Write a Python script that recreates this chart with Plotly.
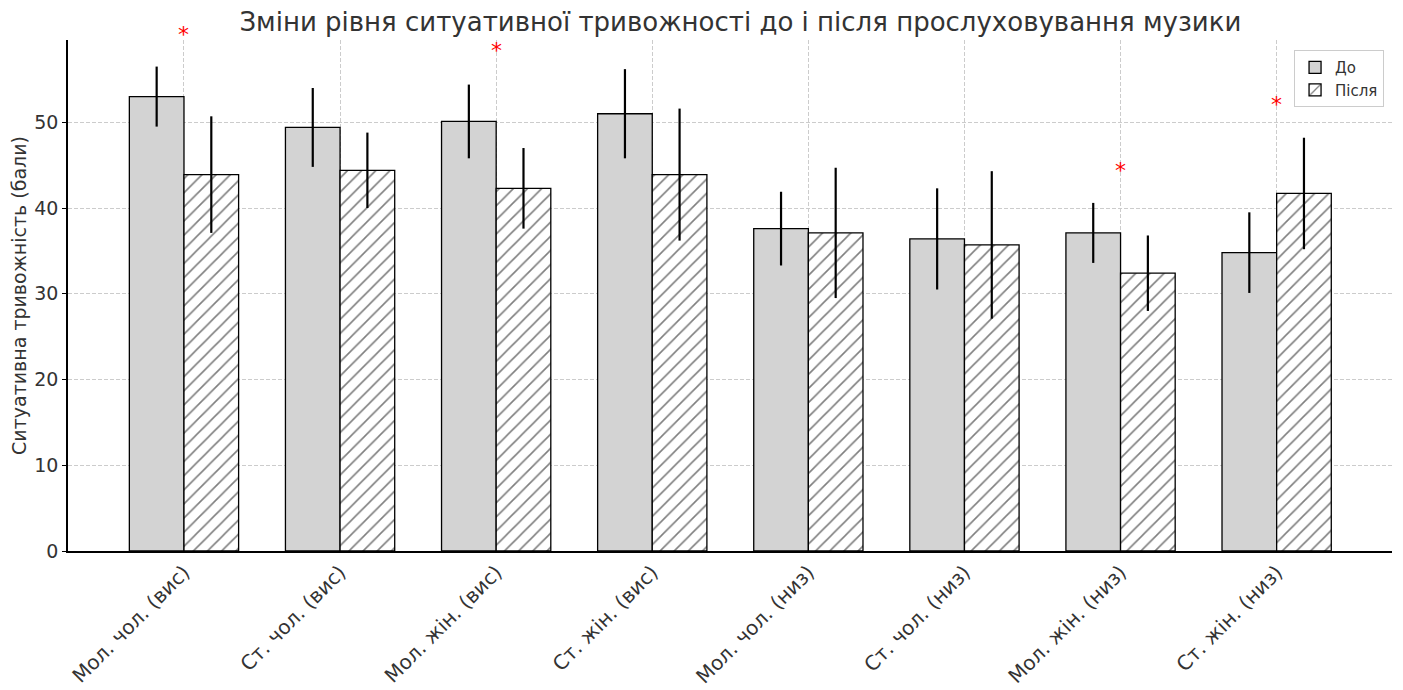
import plotly.graph_objects as go

groups = ["Мол. чол. (вис)", "Ст. чол. (вис)", "Мол. жін. (вис)", "Ст. жін. (вис)",
          "Мол. чол. (низ)", "Ст. чол. (низ)", "Мол. жін. (низ)", "Ст. жін. (низ)"]
before = [53.0, 49.4, 50.1, 51.0, 37.6, 36.4, 37.1, 34.8]
before_sd = [3.5, 4.6, 4.3, 5.2, 4.3, 5.9, 3.5, 4.7]
after = [43.9, 44.4, 42.3, 43.9, 37.1, 35.7, 32.4, 41.7]
after_sd = [6.8, 4.4, 4.7, 7.7, 7.6, 8.6, 4.4, 6.5]
star_idx = [0, 2, 6, 7]
star_y = [60.3, 58.4, 44.4, 52.1]

x = list(range(len(groups)))

fig = go.Figure()
fig.add_trace(go.Bar(
    x=x, y=before, name="До",
    marker=dict(color="#d3d3d3", line=dict(color="black", width=1.3)),
    error_y=dict(type="data", array=before_sd, color="black", thickness=2.2, width=0),
))
fig.add_trace(go.Bar(
    x=x, y=after, name="Після",
    marker=dict(color="white", line=dict(color="black", width=1.3),
                pattern=dict(shape="/", fgcolor="black", bgcolor="white", size=10, solidity=0.16)),
    error_y=dict(type="data", array=after_sd, color="black", thickness=2.2, width=0),
))

# significance markers (anchored 2 units lower and shifted up in px,
# so the one above the axis top is not hidden as off-axis)
px_per_unit = 511 / 59.6
for i, yv in zip(star_idx, star_y):
    fig.add_annotation(x=i, y=yv - 2, xref="x", yref="y", text="*", showarrow=False,
                       font=dict(color="red", size=22, family="DejaVu Sans"),
                       yanchor="middle", yshift=2 * px_per_unit)

# page body has an 8px margin, so shift margins to keep the plot area in place
fig.update_layout(
    width=1403, height=690,
    margin=dict(l=60, r=19, t=32, b=147),
    paper_bgcolor="white", plot_bgcolor="white",
    barmode="group", bargap=0.3, bargroupgap=0,
    font=dict(family="DejaVu Sans", size=19, color="#333333"),
    title=dict(text="Зміни рівня ситуативної тривожності до і після прослуховування музики",
               x=0.522, xanchor="center", y=0.98, yanchor="middle",
               font=dict(size=26, color="#333333")),
    legend=dict(x=0.994, y=0.98, xanchor="right", yanchor="top",
                bordercolor="#cccccc", borderwidth=1, bgcolor="rgba(255,255,255,0.8)",
                font=dict(size=15)),
    showlegend=True,
)
fig.update_xaxes(
    tickmode="array", tickvals=x, ticktext=groups, tickangle=-45,
    range=[-0.743, 7.739], showgrid=True, gridcolor="#cccccc", griddash="4px,2px", gridwidth=1,
    showline=True, linecolor="black", linewidth=1.5, ticks="", zeroline=False,
    tickfont=dict(size=20), automargin=False,
)
fig.update_yaxes(
    range=[0, 59.6], dtick=10, showgrid=True, gridcolor="#cccccc", griddash="4px,2px", gridwidth=1,
    showline=True, linecolor="black", linewidth=1.5, ticks="outside", ticklen=4,
    tickcolor="black", zeroline=False, automargin=False,
    title=dict(text="Ситуативна тривожність (бали)", font=dict(size=19), standoff=10),
    tickfont=dict(size=19),
)

fig.write_html("out.html")
